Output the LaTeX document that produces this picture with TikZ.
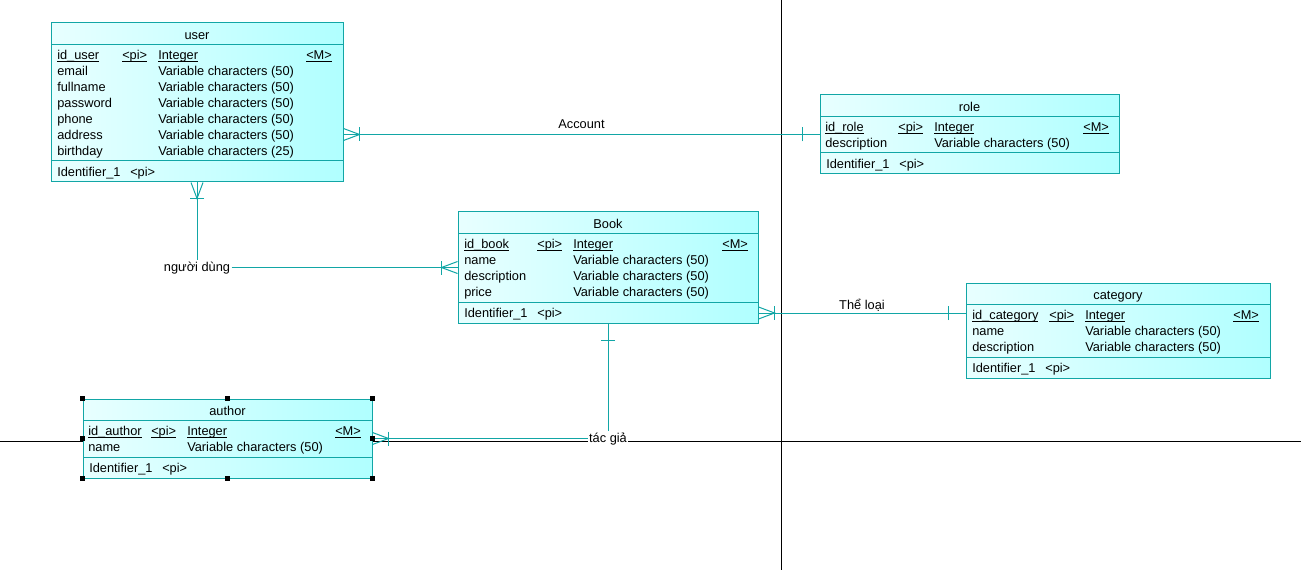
\documentclass[tikz,border=0pt]{standalone}
\usepackage{fontspec}
\setmainfont{Liberation Sans}
\usetikzlibrary{fit}

\definecolor{entline}{RGB}{18,166,166}
\definecolor{entlight}{RGB}{232,255,255}
\definecolor{entdark}{RGB}{176,255,255}

\newcommand\erfont{\fontsize{9.6}{11}\selectfont}
% underline close to the baseline
\newcommand\ul[1]{\setbox0\hbox{#1}\rlap{\rule[-1.4pt]{\wd0}{0.6pt}}\box0}

\tikzset{
	entity/.style={draw=entline, line width=0.75pt, left color=entlight, right color=entdark, inner sep=0pt},
	sepline/.style={draw=entline, line width=0.75pt},
	attr/.style={anchor=base west, inner sep=0pt, yshift=-0.75pt, font=\erfont},
	rel/.style={draw=entline, line width=0.75pt},
	rellabel/.style={inner sep=1pt, fill=white, font=\erfont},
	guide/.style={draw=black, line width=0.75pt},
	many/.pic={\draw[rel] (0,-6) -- (16,0) -- (0,6); \draw[rel] (16,-7) -- (16,7);},
	one/.pic={\draw[rel] (17,-7) -- (17,7);}
}

% box, separators, title and identifier row
\newcommand\entity[6]{%
	\coordinate (#1-nw) at (#2,#3);
	\coordinate (#1-se) at (#4,{#3+47+16*#5});
	\node[entity, fit=(#1-nw)(#1-se)] (#1) {};
	\node[attr, anchor=base] (#1-title) at ({(#2+#4)/2},{#3+15.5}) {#6};
	\draw[sepline] (#2,{#3+21.5}) -- (#4,{#3+21.5});
	\draw[sepline] (#2,{#3+26+16*#5}) -- (#4,{#3+26+16*#5});
	\node[attr] (#1-id) at ({#2+6},{#3+40.5+16*#5}) {Identifier\_1};
	\node[attr] (#1-idpi) at ({#2+79},{#3+40.5+16*#5}) {<pi>};
}

% primary key row
\newcommand\pkrow[7]{%
	\node[attr] (#1-pk) at (#2,#6) {\ul{#7}};
	\node[attr] (#1-pi) at (#3,#6) {\ul{<pi>}};
	\node[attr] (#1-int) at (#4,#6) {\ul{Integer}};
	\node[attr] (#1-m) at (#5,#6) {\ul{<M>}};
}

\begin{document}
\begin{tikzpicture}[x=0.75pt, y=-0.75pt]
	\useasboundingbox (0,0) rectangle (1301,570);

	\draw[guide] (0,441) -- (1301,441);
	\draw[guide] (781,0) -- (781,570);

	% user
	\entity{user}{51}{23}{343}{7}{user}
	\pkrow{user}{57}{122}{158}{306}{58.5}{id\_user}
	\foreach \n/\t [count=\i] in {email/50, fullname/50, password/50, phone/50, address/50, birthday/25}
	{
		\node[attr] (user-n\i) at (57,{58.5+16*\i}) {\n};
		\node[attr] (user-t\i) at (158,{58.5+16*\i}) {Variable characters (\t)};
	}

	% role
	\entity{role}{820}{95}{1119}{2}{role}
	\pkrow{role}{825}{898}{934}{1083}{130.5}{id\_role}
	\node[attr] (role-n1) at (825,146.5) {description};
	\node[attr] (role-t1) at (934,146.5) {Variable characters (50)};

	% Book
	\entity{book}{458}{212}{758}{4}{Book}
	\pkrow{book}{464}{537}{573}{722}{247.5}{id\_book}
	\foreach \n [count=\i] in {name, description, price}
	{
		\node[attr] (book-n\i) at (464,{247.5+16*\i}) {\n};
		\node[attr] (book-t\i) at (573,{247.5+16*\i}) {Variable characters (50)};
	}

	% category
	\entity{category}{966}{283}{1270}{3}{category}
	\pkrow{category}{972}{1049}{1085}{1233}{318.5}{id\_category}
	\foreach \n [count=\i] in {name, description}
	{
		\node[attr] (category-n\i) at (972,{318.5+16*\i}) {\n};
		\node[attr] (category-t\i) at (1085,{318.5+16*\i}) {Variable characters (50)};
	}

	% author
	\entity{author}{83}{399}{372}{2}{author}
	\pkrow{author}{88}{151}{187}{335}{434.5}{id\_author}
	\node[attr] (author-n1) at (88,450.5) {name};
	\node[attr] (author-t1) at (187,450.5) {Variable characters (50)};

	% Account
	\draw[rel] (user.east |- role.west) -- (role.west) node[rellabel, midway, above=3pt] (acc) {Account};
	\pic at (user.east |- role.west) {many};
	\pic[rotate=180] at (role.west) {one};

	% nguoi dung
	\node[rellabel] (nd) at (197,268) {người dùng};
	\draw[rel] (user.south) -- (nd.north);
	\draw[rel] (nd.east |- book.west) -- (book.west);
	\pic[rotate=-90] at (user.south) {many};
	\pic[rotate=180] at (book.west) {many};

	% the loai
	\draw[rel] (book.east |- 0,313) -- (category.west |- 0,313) node[rellabel, midway, above] (tl) {Thể loại};
	\pic at (book.east |- 0,313) {many};
	\pic[rotate=180] at (category.west |- 0,313) {one};

	% tac gia
	\node[rellabel] (tg) at (608,439) {tác giả};
	\draw[rel] (book.south) -- (tg.north);
	\draw[rel] (tg.west |- author.east) -- (author.east);
	\pic[rotate=-90] at (book.south) {one};
	\pic at (author.east) {many};

	% selection handles
	\foreach \a in {north west, north, north east, west, east, south west, south, south east}
		\fill[black] ([shift={(-2.5,-2.5)}]author.\a) rectangle ++(5,5);
\end{tikzpicture}
\end{document}
